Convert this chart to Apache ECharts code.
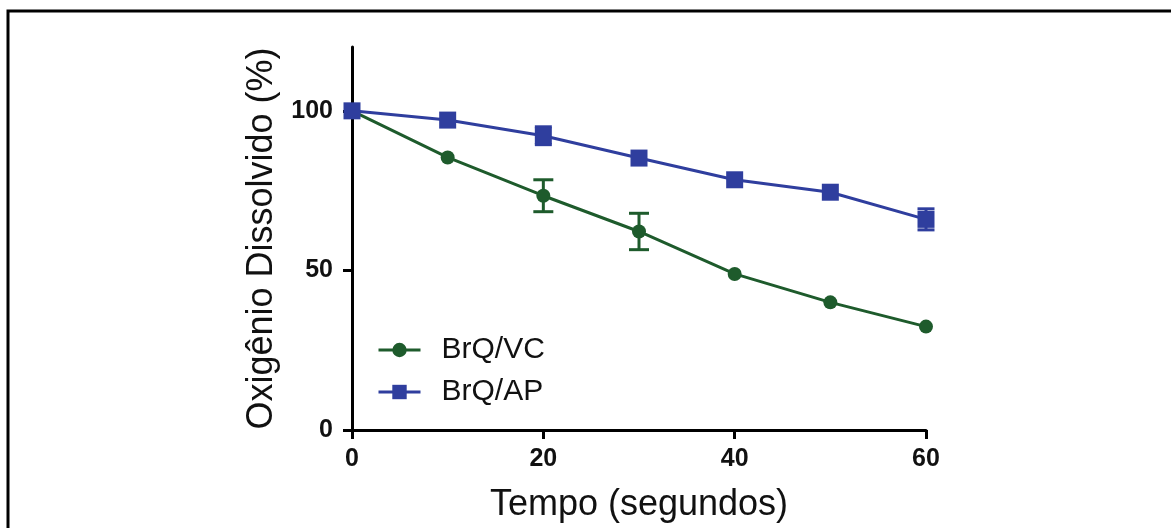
<!DOCTYPE html>
<html>
<head>
<meta charset="utf-8">
<script src="https://cdn.jsdelivr.net/npm/echarts@6/dist/echarts.min.js"></script>
<style>
html,body{margin:0;padding:0;background:#fff;}
#chart{width:1171px;height:528px;}
</style>
</head>
<body>
<div id="chart"></div>
<script>
const time = [0, 10, 20, 30, 40, 50, 60];
const vcValues = [100, 85.4, 73.4, 62.2, 48.9, 40.0, 32.4];
const vcErrors = [0, 0, 5.0, 5.7, 0, 0, 0];
const apValues = [100, 97.1, 92.2, 85.2, 78.4, 74.5, 66.0];
const apErrors = [0, 0, 2.8, 0, 0, 0, 3.3];
const xTicks = [0, 20, 40, 60];
const yTicks = [0, 50, 100];
const seriesNames = ['BrQ/VC', 'BrQ/AP'];
const xName = 'Tempo (segundos)';
const yName = 'Oxigênio Dissolvido (%)';

const GREEN = '#1e5b2c';
const BLUE = '#2f3e9e';
const FONT = '"Liberation Sans", Arial, sans-serif';

function pairs(vals) { return time.map((t, i) => [t, vals[i]]); }
function errData(vals, errs) {
  return time.map((t, i) => [t, vals[i] - errs[i], vals[i] + errs[i]]).filter((d, i) => errs[i] > 0);
}
function errSeries(vals, errs, color, capW) {
  return {
    type: 'custom',
    data: errData(vals, errs),
    z: 1,
    silent: true,
    renderItem: function (params, api) {
      const x = api.value(0);
      const lo = api.coord([x, api.value(1)]);
      const hi = api.coord([x, api.value(2)]);
      const style = { stroke: color, lineWidth: 3 };
      return {
        type: 'group',
        children: [
          { type: 'line', shape: { x1: lo[0], y1: lo[1], x2: hi[0], y2: hi[1] }, style: style },
          { type: 'line', shape: { x1: lo[0] - capW / 2, y1: lo[1], x2: lo[0] + capW / 2, y2: lo[1] }, style: style },
          { type: 'line', shape: { x1: hi[0] - capW / 2, y1: hi[1], x2: hi[0] + capW / 2, y2: hi[1] }, style: style }
        ]
      };
    }
  };
}

const chart = echarts.init(document.getElementById('chart'), null, { renderer: 'canvas' });
chart.setOption({
  backgroundColor: '#ffffff',
  animation: false,
  textStyle: { fontFamily: FONT },
  graphic: [{
    type: 'polyline',
    shape: { points: [[8, 528], [8, 11], [1171, 11]] },
    style: { stroke: '#000', lineWidth: 3, fill: null }
  }],
  grid: { left: 352, right: 245, top: 47, bottom: 98, containLabel: false },
  legend: {
    orient: 'vertical',
    left: 372,
    top: 330,
    itemWidth: 42,
    itemHeight: 18,
    itemGap: 12,
    lineStyle: { width: 3 },
    textStyle: { fontSize: 30, color: '#111', fontFamily: FONT, padding: [0, 0, 0, 16] },
    data: seriesNames
  },
  xAxis: {
    type: 'value',
    min: 0, max: 60, interval: 20,
    name: xName,
    nameLocation: 'middle',
    nameGap: 57,
    nameTextStyle: { fontSize: 36, color: '#111', fontFamily: FONT },
    axisLine: { show: true, onZero: false, lineStyle: { color: '#000', width: 3 } },
    axisTick: { show: true, length: 9, lineStyle: { color: '#000', width: 3 }, customValues: xTicks },
    axisLabel: { fontSize: 25, fontWeight: 'bold', color: '#111', margin: 17, fontFamily: FONT, customValues: xTicks },
    splitLine: { show: false }
  },
  yAxis: {
    type: 'value',
    min: 0, max: 120, interval: 50,
    name: yName,
    nameLocation: 'middle',
    nameGap: 72,
    nameTextStyle: { fontSize: 36, color: '#111', fontFamily: FONT },
    axisLine: { show: true, onZero: false, lineStyle: { color: '#000', width: 3 } },
    axisTick: { show: true, length: 9, lineStyle: { color: '#000', width: 3 }, customValues: yTicks },
    axisLabel: { fontSize: 25, fontWeight: 'bold', color: '#111', margin: 19, fontFamily: FONT, customValues: yTicks },
    splitLine: { show: false }
  },
  series: [
    errSeries(vcValues, vcErrors, GREEN, 20),
    errSeries(apValues, apErrors, BLUE, 17),
    {
      name: seriesNames[0],
      type: 'line',
      data: pairs(vcValues),
      symbol: 'circle',
      symbolSize: 14,
      z: 3,
      itemStyle: { color: GREEN },
      lineStyle: { color: GREEN, width: 3 }
    },
    {
      name: seriesNames[1],
      type: 'line',
      data: pairs(apValues),
      symbol: 'rect',
      symbolSize: 17,
      z: 4,
      itemStyle: { color: BLUE },
      lineStyle: { color: BLUE, width: 3 }
    }
  ]
});
</script>
</body>
</html>
